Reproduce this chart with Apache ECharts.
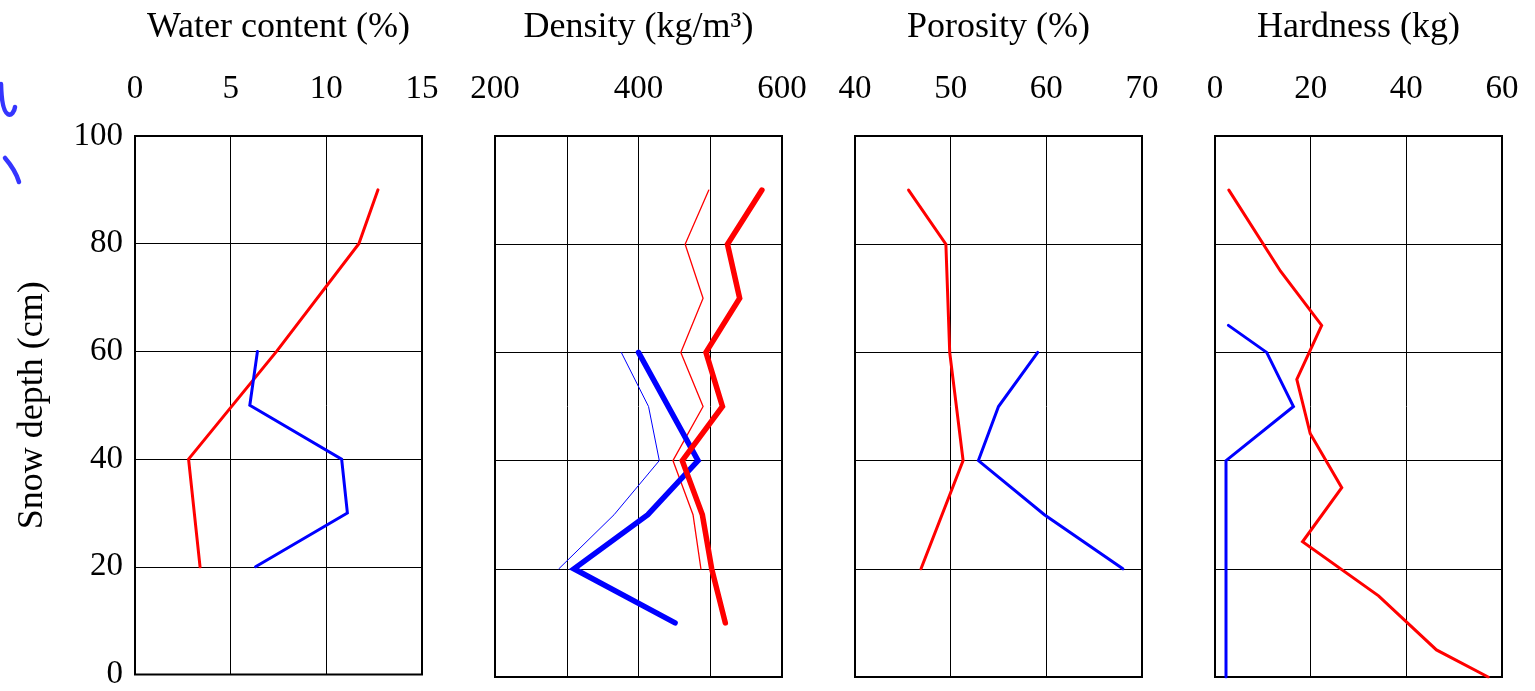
<!DOCTYPE html>
<html>
<head>
<meta charset="utf-8">
<script src="https://cdn.jsdelivr.net/npm/echarts@6/dist/echarts.min.js"></script>
<style>html,body{margin:0;padding:0;background:#fff}#c{width:1535px;height:691px}</style>
</head>
<body>
<div id="c"></div>
<script>
// ---- data ----
const panelTitles = ['Water content (%)', 'Density (kg/m\u00B3)', 'Porosity (%)', 'Hardness (kg)'];
const xMins = [0, 200, 40, 0];
const xMaxs = [15, 600, 70, 60];
const xIntervals = [5, 100, 10, 20];
const yTicks = [0, 20, 40, 60, 80, 100];

const depthWC_R = [90, 80, 60, 40, 20];
const wcRed = [12.7, 11.7, 7.4, 2.8, 3.4];
const depthWC_B = [60, 50, 40, 30, 20];
const wcBlue = [6.4, 6.0, 10.8, 11.1, 6.3];

const depthDen_Rthin = [90, 80, 70, 60, 50, 40, 30, 20];
const denRedThin = [498, 465, 490, 459, 490, 448, 476, 487];
const depthDen_Rthick = [90, 80, 70, 60, 50, 40, 30, 20, 10];
const denRedThick = [572, 524, 541, 494, 517, 461, 489, 502, 521];
const depthDen_Bthin = [60, 50, 40, 30, 20];
const denBlueThin = [376, 414, 429, 366, 289];
const depthDen_Bthick = [60, 40, 30, 20, 10];
const denBlueThick = [400, 483, 413, 310, 451];

const depthPor_R = [90, 80, 60, 40, 20];
const porRed = [45.6, 49.5, 49.9, 51.3, 46.9];
const depthPor_B = [60, 50, 40, 30, 20];
const porBlue = [59.1, 55.0, 52.9, 59.8, 68.0];

const depthHar_R = [90, 75, 65, 55, 45, 35, 25, 15, 5, 0];
const harRed = [2.9, 13.7, 22.3, 17.1, 19.9, 26.5, 18.3, 34.2, 46.3, 57.1];
const depthHar_B = [65, 60, 50, 40, 0];
const harBlue = [2.8, 10.8, 16.4, 2.3, 2.3];

// ---- chart ----
const FONT = 'Liberation Serif';
const RED = '#ff0000', BLUE = '#0000ff';
const lefts = [135, 495, 855, 1215];
const W = 287;

function pairs(vals, depths) { return vals.map((v, i) => [v, depths[i]]); }

const grids = lefts.map(l => ({
  left: l, width: W, top: 136, height: 541,
  show: true, borderColor: '#000', borderWidth: 2, backgroundColor: 'transparent'
}));

const xAxes = lefts.map((l, i) => ({
  gridIndex: i, type: 'value', position: 'top',
  min: xMins[i], max: xMaxs[i], interval: xIntervals[i],
  name: panelTitles[i], nameLocation: 'middle', nameGap: 90,
  nameTextStyle: { fontFamily: FONT, fontSize: 36, color: '#000' },
  axisLine: { show: false }, axisTick: { show: false },
  axisLabel: {
    fontFamily: FONT, fontSize: 33, color: '#000', margin: 30,
    showMinLabel: true, showMaxLabel: true,
    formatter: function (v) { if (i === 1 && (v === 300 || v === 500)) return ''; return String(v); }
  },
  splitLine: { show: true, lineStyle: { color: '#000', width: 1 } }
}));

const yAxes = lefts.map((l, i) => ({
  gridIndex: i, type: 'value', min: yTicks[0], max: yTicks[yTicks.length - 1], interval: 20,
  name: i === 0 ? 'Snow depth (cm)' : '', nameLocation: 'middle', nameGap: 84, nameRotate: 90,
  nameTextStyle: { fontFamily: FONT, fontSize: 36, color: '#000' },
  axisLine: { show: false }, axisTick: { show: false },
  axisLabel: { show: i === 0, fontFamily: FONT, fontSize: 33, color: '#000', margin: 12 },
  splitLine: { show: true, lineStyle: { color: '#000', width: 1 } }
}));

function line(idx, vals, depths, color, width) {
  return {
    type: 'line', xAxisIndex: idx, yAxisIndex: idx, data: pairs(vals, depths),
    symbol: 'none', silent: true, animation: false,
    lineStyle: { color: color, width: width, cap: 'round', join: 'miter' }
  };
}

const series = [
  line(0, wcRed, depthWC_R, RED, 3),
  line(0, wcBlue, depthWC_B, BLUE, 3),
  line(1, denRedThin, depthDen_Rthin, RED, 1.3),
  line(1, denBlueThin, depthDen_Bthin, BLUE, 1),
  line(1, denBlueThick, depthDen_Bthick, BLUE, 5.5),
  line(1, denRedThick, depthDen_Rthick, RED, 5.5),
  line(2, porRed, depthPor_R, RED, 3),
  line(2, porBlue, depthPor_B, BLUE, 3),
  line(3, harRed, depthHar_R, RED, 3),
  line(3, harBlue, depthHar_B, BLUE, 3)
];

const scribbleStyle = { stroke: '#3535ff', lineWidth: 4.5, lineCap: 'round', fill: null };

const chart = echarts.init(document.getElementById('c'), null, { renderer: 'canvas' });
chart.setOption({
  animation: false,
  backgroundColor: '#fff',
  grid: grids, xAxis: xAxes, yAxis: yAxes, series: series,
  graphic: [
    { type: 'bezierCurve', silent: true,
      shape: { x1: 1, y1: 84, x2: 15, y2: 107, cpx1: 2, cpy1: 125, cpx2: 14, cpy2: 116 },
      style: scribbleStyle },
    { type: 'bezierCurve', silent: true,
      shape: { x1: 5, y1: 158, x2: 19, y2: 182, cpx1: 11, cpy1: 165, cpx2: 16, cpy2: 172 },
      style: scribbleStyle }
  ]
});
</script>
</body>
</html>
